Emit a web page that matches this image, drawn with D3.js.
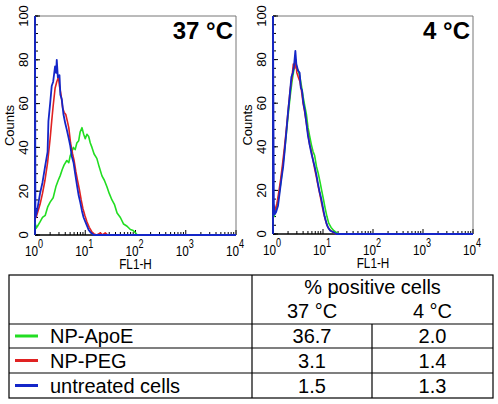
<!DOCTYPE html>
<html><head><meta charset="utf-8">
<script src="https://cdn.jsdelivr.net/npm/d3@7"></script>
<style>body{margin:0;background:#fff}svg{display:block}text{font-family:Arial,"Liberation Sans",sans-serif}</style>
</head><body>
<script>
// ---- data ----
const panelTitles = ["37 °C", "4 °C"];
const seriesNames = ["NP-ApoE", "NP-PEG", "untreated cells"];
const seriesColors = ["#22dd22", "#e02222", "#1426c8"];
const yTicks = [0, 20, 40, 60, 80, 100];
const xDecades = [1, 10, 100, 1000, 10000];
const xTickExps = ["0", "1", "2", "3", "4"];

// 37 °C
const apoe37X = [1,1.05,1.12,1.26,1.41,1.6,1.8,2.0,2.3,2.6,2.9,3.16,3.5,3.8,4.3,4.7,5.0,5.4,5.8,6.3,6.8,7.4,7.9,8.6,9.3,10,10.8,11.7,12.6,13.6,15,17,19,21.5,24,27,30,34,38,43,50,58,68,79,90,100,108,10000];
const apoe37Y = [6,3,4,6,8,9,13,15,17,22,25,27,30,32,34,33,36,38,40,39,42,43,47,49,46,44,46,45,42,40,37,35,31,27,25,22,19,16,14,10,8,5,4,2.5,2,1,0,0];
const peg37X = [1,1.05,1.26,1.41,1.58,1.78,2.0,2.15,2.3,2.51,2.71,2.93,3.07,3.3,3.55,3.8,4.1,4.4,4.7,5.1,5.6,6.0,6.5,7.0,7.6,8.3,9.0,9.8,10.8,12,13.5,15,17,20,22,25,28,32,10000];
const peg37Y = [9,8,14,19,25,33,44,52,59,67,70,72,68,64,58,56,55,52,49,42,37,34,29,25,21,16,12,9,6,3.5,1.5,0.5,0,1,0,1,0,0,0];
const ctrl37X = [1,1,1.02,1.12,1.26,1.41,1.58,1.78,1.85,2.0,2.15,2.3,2.51,2.63,2.71,2.85,3.07,3.2,3.41,3.69,4.0,4.3,4.7,5.01,5.4,5.85,6.3,6.81,7.4,7.94,8.6,9.27,10.5,11.7,13,14.7,10000];
const ctrl37Y = [0,100,8,12,19,24,31,38,52,60,68,70,77,74,80,72,73,64,62,55,51,48,44,41,36,33,28,23,18,15,11,8,5,2.3,1,0,0];

// 4 °C
const apoe4X = [1,1.05,1.1,1.2,1.3,1.42,1.55,1.7,1.85,2.0,2.2,2.4,2.6,2.8,3.0,3.2,3.45,3.7,4.0,4.3,4.65,5.0,5.4,5.85,6.3,6.8,7.4,8.0,8.7,9.4,10.2,11,12,13,14.5,16.5,19,21,10000];
const apoe4Y = [9,8,10,13,17,23,30,38,46,54,63,70,75,78,76,75,72,68,63,59,55,49,45,41,38,36,31,28,24,20,16,12,8,5,3,1.5,0.5,0,0];
const peg4X = [1,1.04,1.1,1.2,1.3,1.42,1.55,1.7,1.85,2.0,2.2,2.4,2.55,2.7,2.85,3.0,3.2,3.45,3.7,4.0,4.3,4.65,5.0,5.4,5.85,6.3,6.8,7.4,8.0,8.7,9.4,10.2,11,12,13.5,15.5,18,10000];
const peg4Y = [11,12,11,14,19,25,32,40,48,56,66,72,78,76,80,74,72,70,66,60,56,51,46,41,38,34,30,26,22,18,14,10,7,4,2,1,0,0];
const ctrl4X = [1,1,1.04,1.08,1.15,1.26,1.36,1.47,1.6,1.71,1.85,2.0,2.15,2.33,2.5,2.63,2.8,2.93,3.16,3.41,3.6,3.8,4.05,4.3,4.65,5.01,5.4,5.85,6.3,6.81,7.4,7.94,8.6,9.27,10,10.8,11.7,12.6,14,15.8,18.5,10000];
const ctrl4Y = [0,100,14,9,10,13,19,25,31,38,47,56,63,72,74,77,84,78,75,74,67,66,60,57,51,45,41,37,34,31,27,23,19,16,12,8,5,3,1.5,1,0,0];

// table
const tableHeader = "% positive cells";
const tableCols = ["37 °C", "4 °C"];
const pos37 = ["36.7", "3.1", "1.5"];
const pos4 = ["2.0", "1.4", "1.3"];

// ---- drawing ----
const W = 498, H = 404;
const svg = d3.select("body").append("svg").attr("width", W).attr("height", H);

const panels = [
  {title: panelTitles[0], x0: 35, x1: 236, yb: 235, yt: 16,
   series: [[apoe37X, apoe37Y], [peg37X, peg37Y], [ctrl37X, ctrl37Y]]},
  {title: panelTitles[1], x0: 273, x1: 473, yb: 234, yt: 16,
   series: [[apoe4X, apoe4Y], [peg4X, peg4Y], [ctrl4X, ctrl4Y]]}
];
const sx = 0.76; // horizontal compression of x-axis texts

panels.forEach((p, pi) => {
  const x = d3.scaleLog().domain([1, 10000]).range([p.x0, p.x1]);
  const y = d3.scaleLinear().domain([0, 100]).range([p.yb, p.yt]);
  const g = svg.append("g");

  // frame top/right
  g.append("path").attr("d", `M${p.x0},${p.yt}H${p.x1}V${p.yb}`)
    .attr("fill", "none").attr("stroke", "#777").attr("stroke-width", 1);

  // y ticks (inward)
  const yMinor = d3.range(0, 101, 4);
  g.selectAll(".ymin").data(yMinor).join("line")
    .attr("x1", p.x0).attr("x2", p.x0 + 3)
    .attr("y1", d => y(d)).attr("y2", d => y(d))
    .attr("stroke", "#000").attr("stroke-width", 1);
  g.selectAll(".ymaj").data(yTicks).join("line")
    .attr("x1", p.x0).attr("x2", p.x0 + 5)
    .attr("y1", d => y(d)).attr("y2", d => y(d))
    .attr("stroke", "#000").attr("stroke-width", 1);
  g.selectAll(".ylab").data(yTicks).join("text")
    .attr("transform", d => `translate(${p.x0 - 7},${y(d)}) rotate(-90)`)
    .attr("text-anchor", "middle").attr("font-size", 13).attr("fill", "#000")
    .text(d => d);

  // x ticks (inward)
  const xMinor = [];
  for (let i = 0; i < 4; i++) for (let k = 2; k <= 9; k++) xMinor.push(xDecades[i] * k);
  g.selectAll(".xmin").data(xMinor).join("line")
    .attr("x1", d => x(d)).attr("x2", d => x(d))
    .attr("y1", p.yb).attr("y2", p.yb - 3)
    .attr("stroke", "#000").attr("stroke-width", 1);
  g.selectAll(".xmaj").data(xDecades).join("line")
    .attr("x1", d => x(d)).attr("x2", d => x(d))
    .attr("y1", p.yb).attr("y2", p.yb - 5)
    .attr("stroke", "#000").attr("stroke-width", 1);
  const xl = g.selectAll(".xlab").data(xDecades).join("text")
    .attr("transform", d => `translate(${x(d) - 1},${p.yb + 21}) scale(${sx},1)`)
    .attr("text-anchor", "middle").attr("font-size", 15.5).attr("fill", "#000");
  xl.append("tspan").text("10");
  xl.append("tspan").attr("dy", -8).attr("font-size", 12).text((d, i) => xTickExps[i]);

  // axes lines
  g.append("line").attr("x1", p.x0).attr("x2", p.x0).attr("y1", p.yt).attr("y2", p.yb)
    .attr("stroke", "#000").attr("stroke-width", 1.5);
  g.append("line").attr("x1", p.x0).attr("x2", p.x1).attr("y1", p.yb).attr("y2", p.yb)
    .attr("stroke", "#000").attr("stroke-width", 1.5);

  // labels
  g.append("text").attr("transform", `translate(${(p.x0 + p.x1) / 2},${p.yb + 34}) scale(${sx},1)`)
    .attr("text-anchor", "middle").attr("font-size", 15.5).text("FL1-H");
  g.append("text").attr("transform", `translate(${p.x0 - 21},${(p.yt + p.yb) / 2}) rotate(-90)`)
    .attr("text-anchor", "middle").attr("font-size", 13).text("Counts");
  g.append("text").attr("x", p.x1 - 3).attr("y", p.yt + 23)
    .attr("text-anchor", "end").attr("font-size", 24).attr("font-weight", "bold").text(p.title);

  // clip
  const cid = "clip" + pi;
  svg.append("clipPath").attr("id", cid).append("rect")
    .attr("x", p.x0 - 2).attr("y", p.yt).attr("width", p.x1 - p.x0 + 3).attr("height", p.yb - p.yt + 2);

  const line = d3.line().x(d => x(d[0])).y(d => y(d[1]));
  p.series.forEach((s, si) => {
    const pts = s[0].map((v, i) => [v, s[1][i]]);
    g.append("path").datum(pts).attr("d", line)
      .attr("clip-path", `url(#${cid})`)
      .attr("fill", "none").attr("stroke", seriesColors[si])
      .attr("stroke-width", si === 2 ? 1.8 : 1.6).attr("stroke-linejoin", "round");
  });
});

// ---- table ----
const T = {x0: 9, x1: 493, y0: 275, rows: [324, 348, 373, 398], c1: 252, c2: 372};
const tg = svg.append("g");
const sw = 1.2;
tg.append("rect").attr("x", T.x0).attr("y", T.y0).attr("width", T.x1 - T.x0).attr("height", T.rows[3] - T.y0)
  .attr("fill", "none").attr("stroke", "#000").attr("stroke-width", sw);
[T.rows[0], T.rows[1], T.rows[2]].forEach(yv => {
  tg.append("line").attr("x1", T.x0).attr("x2", T.x1).attr("y1", yv).attr("y2", yv)
    .attr("stroke", "#000").attr("stroke-width", sw);
});
tg.append("line").attr("x1", T.c1).attr("x2", T.c1).attr("y1", T.y0).attr("y2", T.rows[3])
  .attr("stroke", "#000").attr("stroke-width", sw);
tg.append("line").attr("x1", T.c2).attr("x2", T.c2).attr("y1", T.rows[0]).attr("y2", T.rows[3])
  .attr("stroke", "#000").attr("stroke-width", sw);

const fs = 20;
const cx1 = (T.c1 + T.c2) / 2, cx2 = (T.c2 + T.x1) / 2;
tg.append("text").attr("x", (T.c1 + T.x1) / 2).attr("y", 294).attr("text-anchor", "middle")
  .attr("font-size", fs).text(tableHeader);
tg.append("text").attr("x", cx1).attr("y", 318).attr("text-anchor", "middle").attr("font-size", fs).text(tableCols[0]);
tg.append("text").attr("x", cx2).attr("y", 318).attr("text-anchor", "middle").attr("font-size", fs).text(tableCols[1]);

seriesNames.forEach((n, i) => {
  const top = T.rows[i], bot = T.rows[i + 1], mid = (top + bot) / 2;
  tg.append("line").attr("x1", 15).attr("x2", 38).attr("y1", mid).attr("y2", mid)
    .attr("stroke", seriesColors[i]).attr("stroke-width", 3);
  tg.append("text").attr("x", 50).attr("y", mid + 7).attr("font-size", fs).text(n);
  tg.append("text").attr("x", cx1).attr("y", mid + 7).attr("text-anchor", "middle").attr("font-size", fs).text(pos37[i]);
  tg.append("text").attr("x", cx2).attr("y", mid + 7).attr("text-anchor", "middle").attr("font-size", fs).text(pos4[i]);
});
</script>
</body></html>
